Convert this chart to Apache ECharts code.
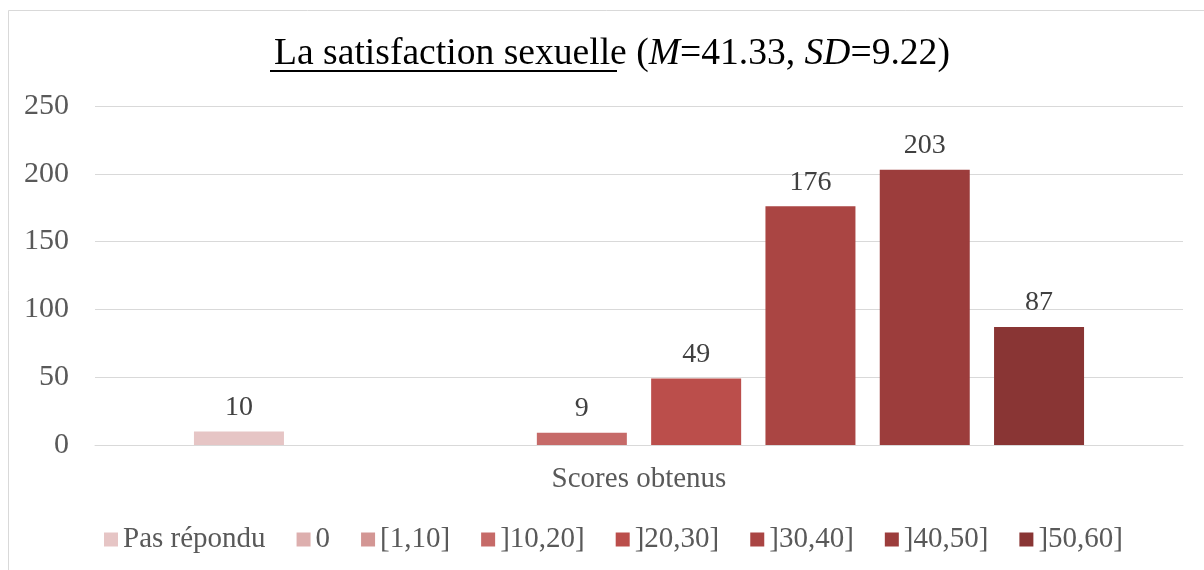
<!DOCTYPE html>
<html>
<head>
<meta charset="utf-8">
<script src="https://cdn.jsdelivr.net/npm/echarts@6/dist/echarts.min.js"></script>
<style>
  html, body { margin: 0; padding: 0; background: #fff; }
  #chart { width: 1204px; height: 570px; }
</style>
</head>
<body>
<div id="chart"></div>
<script>
  // categories / series
  var category = ['Scores obtenus']
  var seriesNames = ['Pas répondu', '0', '[1,10]', ']10,20]', ']20,30]', ']30,40]', ']40,50]', ']50,60]']
  var seriesValues = [10, 0, 0, 9, 49, 176, 203, 87]
  var seriesColors = ['#E6C5C5', '#DDAFAE', '#D39694', '#C66A68', '#BB4E4B', '#AA4543', '#9C3D3C', '#893534']
  var yTicks = [0, 50, 100, 150, 200, 250]

  var font = '"Liberation Serif", "Times New Roman", serif'
  var chart = echarts.init(document.getElementById('chart'))

  var series = seriesNames.map(function (name, i) {
    return {
      name: name,
      type: 'bar',
      data: [seriesValues[i]],
      barWidth: 90,
      barGap: '27%',
      itemStyle: { color: seriesColors[i] },
      label: {
        show: true,
        position: 'top',
        distance: 10,
        color: '#404040',
        fontFamily: font,
        fontSize: 28,
        formatter: function (p) { return p.value ? p.value : '' }
      }
    }
  })

  chart.setOption({
    animation: false,
    backgroundColor: '#fff',
    textStyle: { fontFamily: font },
    title: {
      left: 607,
      top: 30,
      textAlign: 'center',
      text: '{n|La satisfaction sexuelle (}{i|M}{n|=41.33, }{i|SD}{n|=9.22)}',
      textStyle: {
        fontWeight: 'normal',
        rich: {
          n: { fontFamily: font, fontSize: 37.6, color: '#000', fontWeight: 'normal' },
          i: { fontFamily: font, fontSize: 37.6, color: '#000', fontWeight: 'normal', fontStyle: 'italic' }
        }
      }
    },
    graphic: [
      {
        type: 'rect',
        shape: { x: 8.5, y: 10.5, width: 1300, height: 700 },
        style: { fill: 'none', stroke: '#D9D9D9', lineWidth: 1 },
        silent: true
      },
      {
        type: 'line',
        shape: { x1: 270, y1: 71, x2: 617, y2: 71 },
        style: { stroke: '#000', lineWidth: 2 },
        silent: true
      }
    ],
    legend: {
      top: 520,
      left: 99,
      itemWidth: 14,
      itemHeight: 14,
      itemGap: 31,
      icon: 'rect',
      textStyle: { color: '#595959', fontFamily: font, fontSize: 29 },
      data: seriesNames
    },
    grid: { left: 95, right: 21, top: 106, bottom: 125 },
    xAxis: {
      type: 'category',
      data: category,
      axisTick: { show: false },
      axisLine: { lineStyle: { color: '#D9D9D9', width: 1 } },
      axisLabel: { color: '#595959', fontFamily: font, fontSize: 29, margin: 20 }
    },
    yAxis: {
      type: 'value',
      min: yTicks[0],
      max: yTicks[yTicks.length - 1],
      interval: 50,
      axisLine: { show: false },
      axisTick: { show: false },
      splitLine: { lineStyle: { color: '#D9D9D9', width: 1 } },
      axisLabel: { color: '#595959', fontFamily: font, fontSize: 30, margin: 26 }
    },
    series: series
  })
</script>
</body>
</html>
